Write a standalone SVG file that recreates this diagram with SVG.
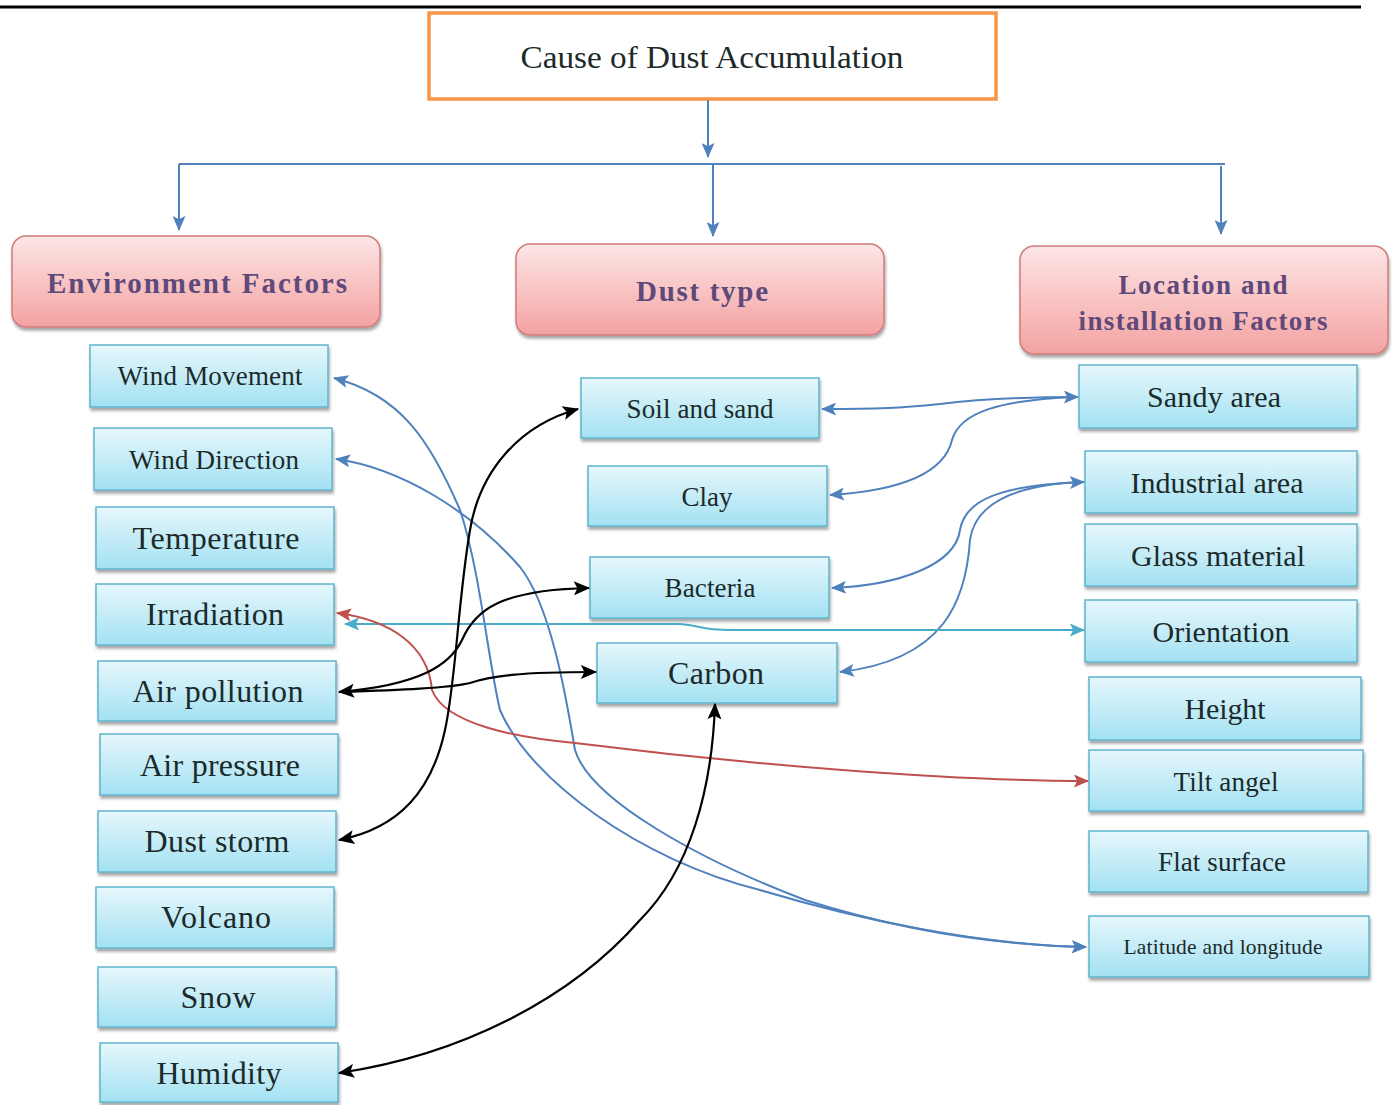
<svg xmlns="http://www.w3.org/2000/svg" width="1395" height="1105" viewBox="0 0 1395 1105">
<defs>
<linearGradient id="gBlue" x1="0" y1="0" x2="0" y2="1"><stop offset="0" stop-color="#e6f7fc"/><stop offset="1" stop-color="#a3e1f2"/></linearGradient>
<linearGradient id="gPink" x1="0" y1="0" x2="0" y2="1"><stop offset="0" stop-color="#fde6e6"/><stop offset="1" stop-color="#f4a2a2"/></linearGradient>
<filter id="sh" x="-10%" y="-20%" width="120%" height="150%"><feDropShadow dx="1" dy="3" stdDeviation="1.5" flood-color="#000" flood-opacity="0.35"/></filter>
<marker id="aB" viewBox="0 0 14 12" refX="13" refY="6" markerWidth="16" markerHeight="13" markerUnits="userSpaceOnUse" orient="auto-start-reverse"><path d="M0,0 L14,6 L0,12 L3,6 z" fill="#4f81bd"/></marker>
<marker id="aK" viewBox="0 0 14 12" refX="13" refY="6" markerWidth="17" markerHeight="14" markerUnits="userSpaceOnUse" orient="auto-start-reverse"><path d="M0,0 L14,6 L0,12 L3,6 z" fill="#000"/></marker>
<marker id="aR" viewBox="0 0 14 12" refX="13" refY="6" markerWidth="16" markerHeight="13" markerUnits="userSpaceOnUse" orient="auto-start-reverse"><path d="M0,0 L14,6 L0,12 L3,6 z" fill="#c0504d"/></marker>
<marker id="aT" viewBox="0 0 14 12" refX="13" refY="6" markerWidth="16" markerHeight="13" markerUnits="userSpaceOnUse" orient="auto-start-reverse"><path d="M0,0 L14,6 L0,12 L3,6 z" fill="#4bacc6"/></marker>
</defs>
<style>
.bx{fill:url(#gBlue);stroke:#5fb4cc;stroke-width:1.5;filter:url(#sh)}
.hd{fill:url(#gPink);stroke:#cf7c7c;stroke-width:1.5;filter:url(#sh)}
.t{font-family:"Liberation Serif","Times New Roman",serif;fill:#1c2a2a;text-anchor:middle}
.h{font-family:"Liberation Serif","Times New Roman",serif;font-weight:bold;fill:#5f497a;text-anchor:middle}
.s{font-size:27px}.m{font-size:30px}.l{font-size:32px}
.cb{fill:none;stroke:#4f81bd;stroke-width:2}
.ck{fill:none;stroke:#000;stroke-width:2.2}
</style>
<rect x="0" y="0" width="1395" height="1105" fill="#fff"/>
<line x1="0" y1="7" x2="1361" y2="7" stroke="#000" stroke-width="3"/>

<g id="node-title"><rect x="429" y="13" width="567" height="86" fill="#fff" stroke="#f79646" stroke-width="3.5"/><text class="t" x="712" y="68" font-size="31" textLength="383" lengthAdjust="spacingAndGlyphs">Cause of Dust Accumulation</text></g>

<g id="node-env"><rect class="hd" x="12" y="236" width="368" height="91" rx="14"/><text class="h" x="197" y="293" font-size="29" textLength="300">Environment Factors</text></g>
<g id="node-dust"><rect class="hd" x="516" y="244" width="368" height="91" rx="14"/><text class="h" x="702" y="301" font-size="29" textLength="132">Dust type</text></g>
<g id="node-loc"><rect class="hd" x="1020" y="246" width="368" height="108" rx="14"/><text class="h" x="1203" y="294" font-size="27" textLength="169">Location and</text><text class="h" x="1203" y="330" font-size="27" textLength="249">installation Factors</text></g>

<g id="node-wind-movement"><rect class="bx" x="90" y="345" width="238" height="62"/><text class="t s" x="210" y="385" textLength="185">Wind Movement</text></g>
<g id="node-wind-direction"><rect class="bx" x="94" y="428" width="238" height="62"/><text class="t s" x="214" y="469" textLength="170">Wind Direction</text></g>
<g id="node-temperature"><rect class="bx" x="96" y="507" width="238" height="62"/><text class="t l" x="216" y="549" textLength="167">Temperature</text></g>
<g id="node-irradiation"><rect class="bx" x="96" y="584" width="238" height="61"/><text class="t l" x="215" y="625" textLength="138">Irradiation</text></g>
<g id="node-air-pollution"><rect class="bx" x="98" y="661" width="238" height="60"/><text class="t l" x="218" y="702" textLength="171">Air pollution</text></g>
<g id="node-air-pressure"><rect class="bx" x="100" y="734" width="238" height="61"/><text class="t l" x="220" y="776" textLength="160">Air pressure</text></g>
<g id="node-dust-storm"><rect class="bx" x="98" y="811" width="238" height="61"/><text class="t l" x="217" y="852" textLength="145">Dust storm</text></g>
<g id="node-volcano"><rect class="bx" x="96" y="887" width="238" height="61"/><text class="t l" x="216" y="928" textLength="110">Volcano</text></g>
<g id="node-snow"><rect class="bx" x="98" y="967" width="238" height="60"/><text class="t l" x="218" y="1008" textLength="75">Snow</text></g>
<g id="node-humidity"><rect class="bx" x="100" y="1043" width="238" height="59"/><text class="t l" x="219" y="1084" textLength="125">Humidity</text></g>

<g id="node-soil"><rect class="bx" x="581" y="378" width="238" height="60"/><text class="t s" x="700" y="418" textLength="147">Soil and sand</text></g>
<g id="node-clay"><rect class="bx" x="588" y="466" width="239" height="60"/><text class="t s" x="707" y="506" textLength="51">Clay</text></g>
<g id="node-bacteria"><rect class="bx" x="590" y="557" width="239" height="61"/><text class="t s" x="710" y="597" textLength="91">Bacteria</text></g>
<g id="node-carbon"><rect class="bx" x="597" y="643" width="240" height="60"/><text class="t l" x="716" y="684" textLength="96">Carbon</text></g>

<g id="node-sandy"><rect class="bx" x="1079" y="365" width="278" height="63"/><text class="t m" x="1214" y="407" textLength="134">Sandy area</text></g>
<g id="node-industrial"><rect class="bx" x="1085" y="451" width="272" height="62"/><text class="t m" x="1217" y="493" textLength="173">Industrial area</text></g>
<g id="node-glass"><rect class="bx" x="1085" y="524" width="272" height="62"/><text class="t m" x="1218" y="566" textLength="174">Glass material</text></g>
<g id="node-orientation"><rect class="bx" x="1085" y="600" width="272" height="62"/><text class="t m" x="1221" y="642" textLength="137">Orientation</text></g>
<g id="node-height"><rect class="bx" x="1089" y="677" width="272" height="63"/><text class="t m" x="1225" y="719" textLength="81">Height</text></g>
<g id="node-tilt"><rect class="bx" x="1089" y="750" width="274" height="61"/><text class="t s" x="1226" y="791" textLength="105">Tilt angel</text></g>
<g id="node-flat"><rect class="bx" x="1089" y="831" width="279" height="61"/><text class="t s" x="1222" y="871" textLength="128">Flat surface</text></g>
<g id="node-latitude"><rect class="bx" x="1089" y="916" width="280" height="61"/><text class="t" x="1223" y="954" font-size="21.5" textLength="199">Latitude and longitude</text></g>

<g id="connectors">
<path class="cb" d="M708,100 L708,157" marker-end="url(#aB)"/>
<path class="cb" d="M179,164 L1225,164" stroke-width="2.5"/>
<path class="cb" d="M179,164 L179,230" marker-end="url(#aB)"/>
<path class="cb" d="M713,164 L713,236" marker-end="url(#aB)"/>
<path class="cb" d="M1221,166 L1221,234" marker-end="url(#aB)"/>

<path class="cb" d="M822,409 C880,409 900,408 940,404 C980,399 1020,397 1078,397" marker-start="url(#aB)" marker-end="url(#aB)"/>
<path class="cb" d="M1076,397 C1000,400 960,412 952,440 C945,470 910,490 830,495" marker-end="url(#aB)"/>
<path class="cb" d="M1084,482 C1000,485 965,500 960,530 C955,565 900,585 832,588" marker-start="url(#aB)" marker-end="url(#aB)"/>
<path class="cb" d="M1082,482 C1010,485 975,505 970,540 C966,600 945,660 840,672" marker-end="url(#aB)"/>

<path class="cb" d="M334,378 C400,395 430,440 460,510 C480,570 488,660 500,710 C530,780 640,860 760,890 C860,920 980,945 1086,947" marker-start="url(#aB)" marker-end="url(#aB)"/>
<path class="cb" d="M336,459 C400,468 470,510 520,567 C550,605 565,690 575,750 C590,800 700,860 805,900 C900,930 990,945 1086,947" marker-start="url(#aB)" marker-end="url(#aB)"/>

<path fill="none" stroke="#4bacc6" stroke-width="2" d="M345,624 L680,624 C700,625 700,630 730,630 L1084,630" marker-start="url(#aT)" marker-end="url(#aT)"/>
<path fill="none" stroke="#c0504d" stroke-width="2" d="M337,613 C390,620 428,645 432,690 C445,725 520,738 575,743 C750,765 950,781 1088,781" marker-start="url(#aR)" marker-end="url(#aR)"/>

<path class="ck" d="M578,409 C520,425 480,470 470,530 C458,600 456,680 445,730 C432,790 400,828 339,840" marker-start="url(#aK)" marker-end="url(#aK)"/>
<path class="ck" d="M339,692 C420,685 450,665 462,640 C475,610 500,590 589,588" marker-start="url(#aK)" marker-end="url(#aK)"/>
<path class="ck" d="M339,692 C400,690 450,688 470,683 C490,676 520,672 596,672" marker-end="url(#aK)"/>
<path class="ck" d="M715,704 C712,790 690,870 640,920 C570,1000 460,1055 339,1073" marker-start="url(#aK)" marker-end="url(#aK)"/>
</g>
</svg>
